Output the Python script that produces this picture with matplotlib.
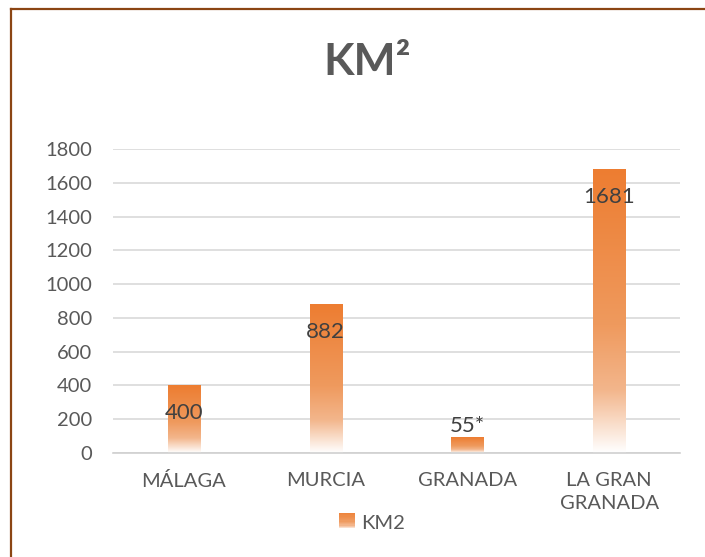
import numpy as np
import matplotlib
matplotlib.use("Agg")
import matplotlib.pyplot as plt
from matplotlib.colors import LinearSegmentedColormap
from matplotlib.legend_handler import HandlerBase
from matplotlib.patches import Rectangle
from matplotlib.lines import Line2D

plt.rcParams["font.family"] = ["Lato", "DejaVu Sans"]

categories = ["MÁLAGA", "MURCIA", "GRANADA", "LA GRAN\nGRANADA"]
values = [400, 882, 90, 1681]
labels = ["400", "882", "55*", "1681"]
label_inside = [True, True, False, True]
yticks = [0, 200, 400, 600, 800, 1000, 1200, 1400, 1600, 1800]

ORANGE = "#ED7D31"
TEXT = "#595959"
# top -> bottom gradient of each bar
grad = LinearSegmentedColormap.from_list(
    "bar", [(0.0, ORANGE), (0.55, "#EF9A5E"), (0.78, "#F3B68C"), (1.0, "#FFFFFF")]
)

W, H = 705, 557
fig = plt.figure(figsize=(W / 100, H / 100), dpi=100)
ax = fig.add_axes([113 / W, 1 - 453 / H, (680 - 113) / W, (453 - 149) / H])

x = np.arange(len(categories))
bw = 0.226
g = np.linspace(0, 1, 256).reshape(-1, 1)
for xi, v in zip(x, values):
    ax.imshow(g, cmap=grad, extent=[xi - bw / 2, xi + bw / 2, 0, v],
              aspect="auto", origin="upper", zorder=2, interpolation="bilinear")

for xi, v, lab, inside in zip(x, values, labels, label_inside):
    if inside:
        ax.annotate(lab, (xi, v), xytext=(0, -13), textcoords="offset points",
                    ha="center", va="top", fontsize=16, color="#404040", zorder=3)
    else:
        ax.annotate(lab, (xi, v), xytext=(0, 1), textcoords="offset points",
                    ha="center", va="bottom", fontsize=16, color="#404040", zorder=3)

ax.set_xlim(-0.5, len(categories) - 0.5)
ax.set_ylim(0, 1800)
ax.set_yticks(yticks)
ax.set_xticks(x)
ax.set_xticklabels(categories, fontsize=14.5, color=TEXT, linespacing=1.4)
ax.tick_params(axis="y", length=0, pad=15, labelsize=14.5, labelcolor=TEXT)
ax.tick_params(axis="x", length=0, pad=14)
ax.grid(axis="y", color="#D9D9D9", linewidth=1.2, zorder=0)
ax.set_axisbelow(True)
for s in ["top", "right", "left"]:
    ax.spines[s].set_visible(False)
ax.spines["bottom"].set_color("#D0D0D0")
ax.spines["bottom"].set_linewidth(1.2)

fig.text(367 / W, 1 - 62 / H, "KM²", ha="center", va="center",
         fontsize=32, fontweight="bold", color=TEXT)


class GradHandler(HandlerBase):
    def create_artists(self, legend, orig, xd, yd, width, height, fontsize, trans):
        n = 12
        arts = []
        for i in range(n):
            c = grad(0.15 + 0.75 * i / (n - 1))
            arts.append(Rectangle((xd, yd + height - (i + 1) * height / n), width,
                                  height / n, facecolor=c, edgecolor="none",
                                  transform=trans))
        return arts


leg = fig.legend([Rectangle((0, 0), 1, 1)], ["KM2"], handler_map={Rectangle: GradHandler()},
                 loc="center", bbox_to_anchor=(372 / W, 1 - 523 / H), frameon=False,
                 fontsize=14.5, handlelength=0.8, handleheight=0.8, handletextpad=0.3)
for t in leg.get_texts():
    t.set_color(TEXT)

border = "#8B4513"
fig.add_artist(Line2D([10.5 / W, 1], [1 - 9 / H, 1 - 9 / H], color=border, lw=1.6))
fig.add_artist(Line2D([10.5 / W, 10.5 / W], [0, 1 - 9 / H], color=border, lw=1.6))

fig.savefig("out.png", dpi=100, facecolor="white")
